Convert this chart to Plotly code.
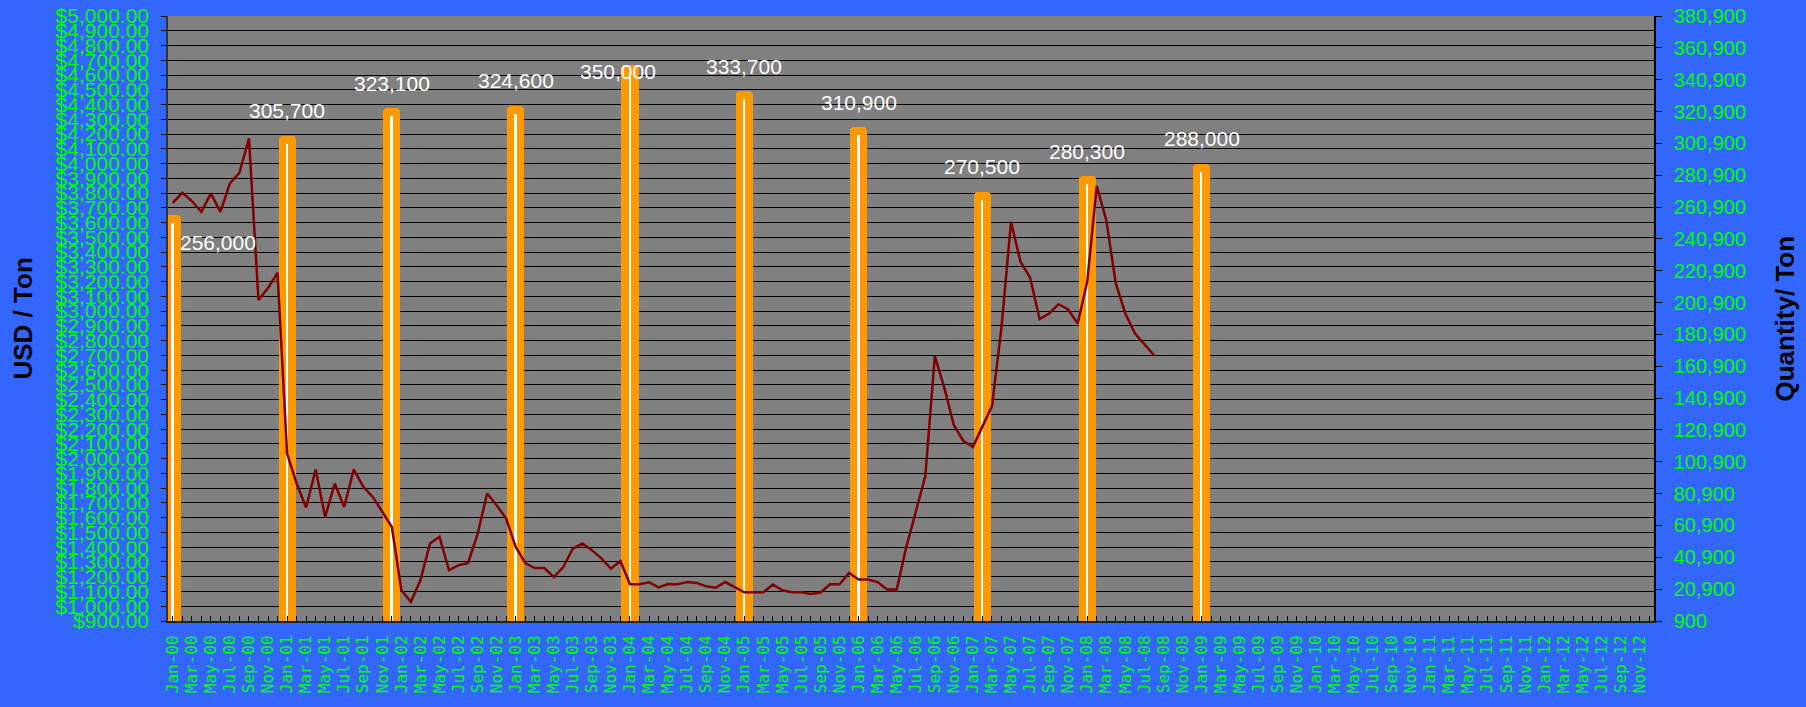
import plotly.graph_objects as go

# ---- data ----
MONTHS = ["Jan", "Feb", "Mar", "Apr", "May", "Jun", "Jul", "Aug", "Sep", "Oct", "Nov", "Dec"]
YEARS = ["00", "01", "02", "03", "04", "05", "06", "07", "08", "09", "10", "11", "12"]
categories = [f"{m}-{y}" for y in YEARS for m in MONTHS]

# monthly price (USD / Ton), Jan-00 .. Aug-08
price_usd = [
    3734, 3802, 3746, 3673, 3798, 3673, 3866, 3938, 4171, 3075, 3156, 3260,   # 2000
    2035, 1832, 1669, 1927, 1605, 1832, 1673, 1927, 1809, 1741, 1639, 1537,   # 2001
    1108, 1030, 1176, 1425, 1470, 1244, 1278, 1293, 1489, 1764, 1685, 1594,   # 2002
    1402, 1293, 1259, 1259, 1198, 1266, 1391, 1425, 1380, 1324, 1255, 1307,   # 2003
    1149, 1149, 1162, 1128, 1150, 1149, 1164, 1158, 1135, 1126, 1164, 1131,   # 2004
    1095, 1095, 1095, 1147, 1108, 1095, 1095, 1083, 1093, 1149, 1149, 1225,   # 2005
    1181, 1181, 1164, 1113, 1113, 1400, 1650, 1880, 2695, 2480, 2227, 2120,   # 2006
    2080, 2218, 2356, 2890, 3605, 3334, 3228, 2946, 2984, 3047, 3011, 2916,   # 2007
    3199, 3848, 3617, 3188, 2984, 2849, 2776, 2702,                           # 2008
]

# yearly quantity (Ton)
bar_months = ["Jan-00", "Jan-01", "Dec-01", "Jan-03", "Jan-04", "Jan-05", "Jan-06", "Feb-07", "Jan-08", "Jan-09"]
bar_qty = [256000, 305700, 323100, 324600, 350000, 333700, 310900, 270500, 280300, 288000]

# x tick labels: every second month
tick_text = [c if i % 2 == 0 else "" for i, c in enumerate(categories)]

# ---- style ----
BLUE = "#3366FF"
GREEN = "#00FF00"
ORANGE = "#FF9900"
DARKRED = "#800000"
STRIPE_GAP = 5000  # white highlight stops a little below the bar top

fig = go.Figure()

fig.add_trace(go.Bar(
    x=bar_months, y=bar_qty, yaxis="y", width=1.8,
    marker=dict(color=ORANGE, line=dict(width=0), cornerradius=4),
    hoverinfo="x+y", showlegend=False,
))
fig.add_trace(go.Bar(
    x=bar_months, y=[q - STRIPE_GAP for q in bar_qty], yaxis="y", width=0.2,
    marker=dict(color="white", line=dict(width=0)),
    hoverinfo="skip", showlegend=False,
))
fig.add_trace(go.Scatter(
    x=categories[:len(price_usd)], y=price_usd, yaxis="y2", mode="lines",
    line=dict(color=DARKRED, width=2.5), showlegend=False,
))

# bar value labels
for i, (m, q) in enumerate(zip(bar_months, bar_qty)):
    xs, ys = 0, 25
    if i == 0:
        xs, ys = 45, -28
    elif q == max(bar_qty):
        xs, ys = -12, -6
    fig.add_annotation(
        x=m, y=q, xref="x", yref="y", text=f"{q:,}", showarrow=False,
        xshift=xs, yshift=ys, yanchor="middle", xanchor="center",
        font=dict(family="Arial", size=21, color="white"),
    )

fig.add_annotation(
    x=0, y=0.5, xref="paper", yref="paper", xshift=-146, text="<b>USD / Ton</b>",
    xanchor="center", yanchor="middle",
    textangle=-90, showarrow=False, font=dict(family="Arial", size=26, color="black"),
)
fig.add_annotation(
    x=1, y=0.5, xref="paper", yref="paper", xshift=130, text="<b>Quantity/ Ton</b>",
    xanchor="center", yanchor="middle",
    textangle=-90, showarrow=False, font=dict(family="Arial", size=26, color="black"),
)

fig.update_layout(
    width=1806, height=707,
    margin=dict(l=168, r=152, t=16, b=86),
    paper_bgcolor=BLUE, plot_bgcolor="#808080",
    barmode="overlay", bargap=0,
    xaxis=dict(
        type="category", categoryorder="array", categoryarray=categories,
        range=[-0.5, len(categories) - 0.5],
        tickmode="array", tickvals=categories, ticktext=tick_text,
        tickangle=-90, ticks="inside", ticklen=5, tickcolor="black",
        tickfont=dict(family="DejaVu Sans Mono", size=16, color=GREEN),
        showgrid=False, showline=True, linecolor="#222222", linewidth=2,
        ticklabelstandoff=6, automargin=False,
    ),
    yaxis=dict(
        side="right", range=[900, 380900], tick0=900, dtick=20000, tickmode="linear",
        tickformat=",d", showgrid=False, zeroline=False,
        ticks="outside", ticklen=6, tickcolor="black",
        showline=True, linecolor="black", linewidth=1.5,
        tickfont=dict(family="Arial", size=20, color=GREEN),
        ticklabelstandoff=8, automargin=False,
    ),
    yaxis2=dict(
        side="left", overlaying="y", range=[900, 5000], tick0=900, dtick=100, tickmode="linear",
        tickprefix="$", tickformat=",.2f", showgrid=True, gridcolor="black", gridwidth=1,
        zeroline=False, ticks="outside", ticklen=5, tickcolor="black",
        showline=True, linecolor="#333333", linewidth=1.5,
        tickfont=dict(family="Arial", size=21, color=GREEN),
        ticklabelstandoff=8, automargin=False,
    ),
)

fig.write_html(
    "out.html",
    config={"displayModeBar": False},
    post_script="document.body.style.margin='0';document.body.style.backgroundColor='#3366FF';document.body.style.overflow='hidden';",
)
